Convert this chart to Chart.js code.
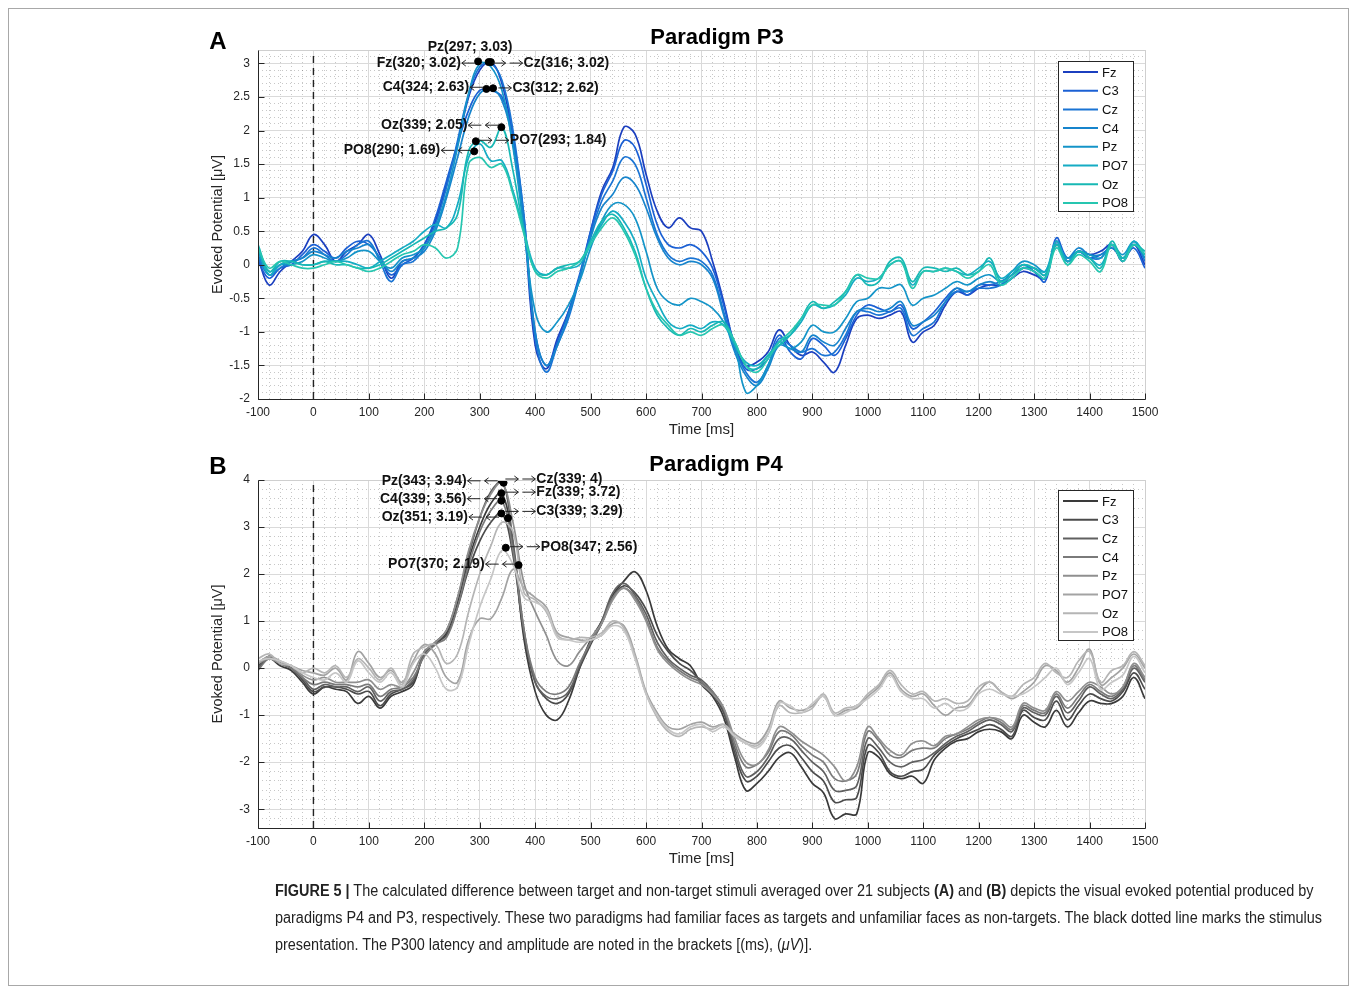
<!DOCTYPE html>
<html>
<head>
<meta charset="utf-8">
<script src="https://cdn.jsdelivr.net/npm/chart.js@4.4.0/dist/chart.umd.min.js"></script>
<style>
body { margin: 0; background: #fff; width: 1356px; height: 988px; position: relative; overflow: hidden; font-family: "Liberation Sans", Arial, sans-serif; }
#frame { position: absolute; left: 8px; top: 8px; width: 1339px; height: 976px; border: 1px solid #a8a8a8; }
canvas { position: absolute; left: 0; }
#chartA { top: 0; }
#chartB { top: 430px; }
#caption { position: absolute; left: 275px; top: 877px; font-size: 16px; line-height: 27px; color: #222; white-space: nowrap; transform-origin: left top; }
#caption .ln { display: block; }
</style>
</head>
<body>
<div id="frame"></div>
<canvas id="chartA" width="1356" height="450"></canvas>
<canvas id="chartB" width="1356" height="450"></canvas>
<div id="caption">
  <span class="ln" id="cap1"><b>FIGURE 5 |</b> The calculated difference between target and non-target stimuli averaged over 21 subjects <b>(A)</b> and <b>(B)</b> depicts the visual evoked potential produced by</span>
  <span class="ln" id="cap2">paradigms P4 and P3, respectively. These two paradigms had familiar faces as targets and unfamiliar faces as non-targets. The black dotted line marks the stimulus</span>
  <span class="ln" id="cap3">presentation. The P300 latency and amplitude are noted in the brackets [(ms), (<i>μV</i>)].</span>
</div>
<script>
// sample times (ms)
const timeMs = [-100, -80, -60, -40, -20, 0, 20, 40, 60, 80,
    100, 120, 140, 160, 180, 200, 220, 240, 260, 280,
    300, 320, 340, 360, 380, 400, 420, 440, 460, 480,
    500, 520, 540, 560, 580, 600, 620, 640, 660, 680,
    700, 720, 740, 760, 780, 800, 820, 840, 860, 880,
    900, 920, 940, 960, 980, 1000, 1020, 1040, 1060, 1080,
    1100, 1120, 1140, 1160, 1180, 1200, 1220, 1240, 1260, 1280,
    1300, 1320, 1340, 1360, 1380, 1400, 1420, 1440, 1460, 1480, 1500];
const channels = ['Fz', 'C3', 'Cz', 'C4', 'Pz', 'PO7', 'Oz', 'PO8'];
const stimulusMs = 0;

// Paradigm P3 (uV)
const p3Fz = [0.1, -0.3, -0.1, 0.05, 0.2, 0.45, 0.3, 0.05, 0.2, 0.3,
    0.45, 0.15, -0.2, 0.05, 0.1, 0.3, 0.65, 1.2, 1.8, 2.5,
    2.9, 3.02, 2.7, 1.9, 0.6, -1.2, -1.55, -1.1, -0.7, -0.2,
    0.5, 1.1, 1.45, 2.05, 1.95, 1.35, 0.8, 0.55, 0.7, 0.55,
    0.5, 0.05, -0.55, -1.2, -1.5, -1.45, -1.3, -0.97, -1.2, -1.35,
    -1.3, -1.45, -1.6, -1.2, -0.8, -0.75, -0.8, -0.75, -0.7, -1.15,
    -1.0, -0.9, -0.6, -0.4, -0.45, -0.35, -0.3, -0.3, -0.2, -0.1,
    -0.15, -0.2, 0.35, 0.05, 0.2, 0.15, 0.2, 0.3, 0.05, 0.3, 0.0];
const p3C3 = [0.05, -0.2, -0.05, 0.0, 0.15, 0.3, 0.2, 0.1, 0.25, 0.35,
    0.3, 0.1, -0.15, 0.0, 0.1, 0.3, 0.7, 1.25, 1.8, 2.3,
    2.6, 2.6, 2.5, 1.9, 0.7, -1.0, -1.5, -1.15, -0.7, -0.15,
    0.5, 1.05, 1.4, 1.85, 1.75, 1.2, 0.6, 0.3, 0.25, 0.3,
    0.2, -0.05, -0.6, -1.2, -1.55, -1.55, -1.4, -1.05, -1.3, -1.4,
    -1.1, -1.2, -1.35, -1.1, -0.75, -0.6, -0.65, -0.7, -0.6, -0.95,
    -0.85, -0.7, -0.5, -0.35, -0.45, -0.3, -0.3, -0.25, -0.15, 0.0,
    -0.1, -0.25, 0.4, 0.1, 0.2, 0.1, 0.15, 0.25, 0.1, 0.25, -0.05];
const p3Cz = [0.1, -0.15, -0.05, 0.05, 0.1, 0.25, 0.15, 0.05, 0.15, 0.3,
    0.35, 0.05, -0.25, 0.0, 0.05, 0.25, 0.6, 1.15, 1.85, 2.55,
    2.95, 3.0, 2.75, 2.0, 0.7, -1.1, -1.6, -1.2, -0.8, -0.2,
    0.45, 0.95, 1.25, 1.6, 1.5, 1.0, 0.45, 0.15, 0.05, 0.1,
    0.05, -0.15, -0.7, -1.25, -1.6, -1.75, -1.5, -1.1, -1.2, -1.3,
    -1.25, -1.35, -1.3, -1.05, -0.7, -0.7, -0.75, -0.7, -0.65, -1.05,
    -0.95, -0.85, -0.55, -0.4, -0.4, -0.35, -0.35, -0.3, -0.15, -0.05,
    -0.1, -0.2, 0.3, 0.05, 0.2, 0.1, 0.1, 0.3, 0.05, 0.35, 0.05];
const p3C4 = [0.15, -0.15, 0.0, 0.05, 0.1, 0.2, 0.15, 0.1, 0.2, 0.25,
    0.3, 0.1, -0.1, 0.05, 0.1, 0.2, 0.5, 1.0, 1.6, 2.2,
    2.55, 2.62, 2.45, 1.8, 0.6, -1.0, -1.5, -1.2, -0.75, -0.2,
    0.4, 0.85, 1.05, 1.3, 1.2, 0.85, 0.4, 0.1, 0.0, 0.05,
    0.0, -0.2, -0.75, -1.3, -1.65, -1.8, -1.55, -1.2, -1.25, -1.3,
    -1.05, -1.15, -1.2, -0.95, -0.7, -0.65, -0.7, -0.65, -0.55, -0.9,
    -0.85, -0.75, -0.55, -0.35, -0.4, -0.3, -0.25, -0.3, -0.2, -0.05,
    -0.05, -0.15, 0.3, 0.1, 0.25, 0.15, 0.15, 0.25, 0.1, 0.3, 0.1];
const p3Pz = [0.2, -0.1, 0.0, 0.0, 0.05, 0.15, 0.1, 0.05, 0.1, 0.2,
    0.2, 0.05, -0.05, 0.1, 0.15, 0.25, 0.55, 1.05, 1.75, 2.55,
    3.0, 2.95, 2.6, 1.75, 0.5, -0.7, -1.0, -0.85, -0.6, -0.25,
    0.25, 0.65, 0.9, 0.9, 0.7, 0.2, -0.35, -0.55, -0.6, -0.5,
    -0.55, -0.65, -0.85, -1.2, -1.9, -1.8, -1.5, -1.15, -1.25, -1.15,
    -0.9, -1.0, -1.0, -0.8, -0.55, -0.5, -0.35, -0.35, -0.3, -0.6,
    -0.5, -0.45, -0.35, -0.25, -0.3, -0.2, -0.15, -0.25, -0.1, 0.05,
    0.0, -0.1, 0.3, 0.1, 0.2, 0.15, 0.1, 0.3, 0.15, 0.35, 0.1];
const p3PO7 = [0.25, -0.15, 0.0, 0.05, 0.0, 0.0, 0.05, 0.05, 0.05, 0.0,
    -0.05, 0.05, 0.15, 0.25, 0.35, 0.5, 0.6, 0.55, 0.9, 1.6,
    1.8, 1.55, 1.55, 1.1, 0.5, -0.05, -0.15, -0.05, -0.05, 0.0,
    0.3, 0.6, 0.8, 0.65, 0.35, -0.2, -0.55, -0.85, -0.95, -0.9,
    -0.95, -0.85, -0.9, -1.2, -1.45, -1.5, -1.35, -1.15, -1.05, -0.85,
    -0.6, -0.65, -0.6, -0.45, -0.2, -0.25, -0.2, 0.0, 0.05, -0.3,
    -0.1, -0.1, -0.05, -0.1, -0.15, -0.05, 0.05, -0.2, -0.1, 0.0,
    -0.05, -0.1, 0.35, 0.05, 0.2, 0.1, 0.0, 0.3, 0.1, 0.35, 0.15];
const p3Oz = [0.3, -0.1, 0.05, 0.05, 0.0, 0.0, 0.05, 0.0, 0.0, -0.05,
    -0.05, 0.0, 0.1, 0.2, 0.3, 0.4, 0.5, 0.55, 0.75, 1.7,
    1.85, 1.75, 2.05, 1.4, 0.5, -0.1, -0.15, -0.05, 0.0, 0.05,
    0.35, 0.65, 0.75, 0.55, 0.2, -0.35, -0.75, -0.95, -1.05, -0.95,
    -1.0, -0.9, -0.85, -1.15, -1.5, -1.55, -1.35, -1.2, -1.05, -0.8,
    -0.55, -0.65, -0.55, -0.4, -0.15, -0.3, -0.25, 0.05, 0.1, -0.25,
    -0.05, -0.05, -0.1, -0.05, -0.15, -0.1, 0.1, -0.25, -0.15, 0.0,
    -0.05, -0.15, 0.3, 0.0, 0.2, 0.1, -0.05, 0.35, 0.1, 0.3, 0.2];
const p3PO8 = [0.25, -0.05, 0.05, 0.0, -0.05, -0.05, 0.0, 0.05, 0.0, -0.05,
    -0.1, -0.05, 0.05, 0.15, 0.2, 0.3, 0.25, 0.1, 0.25, 1.5,
    1.6, 1.45, 1.5, 1.05, 0.45, -0.1, -0.2, -0.1, -0.05, 0.05,
    0.3, 0.55, 0.7, 0.5, 0.15, -0.35, -0.7, -0.9, -1.05, -1.0,
    -1.05, -0.95, -0.9, -1.15, -1.5, -1.6, -1.4, -1.15, -1.0, -0.8,
    -0.6, -0.6, -0.6, -0.4, -0.15, -0.2, -0.2, 0.0, 0.05, -0.35,
    -0.1, -0.1, -0.05, -0.1, -0.2, -0.1, 0.0, -0.3, -0.2, -0.05,
    -0.1, -0.2, 0.25, 0.0, 0.15, 0.05, -0.1, 0.3, 0.05, 0.3, 0.15];

// Paradigm P4 (uV)
const p4Fz = [0.0, 0.2, 0.05, -0.05, -0.3, -0.55, -0.4, -0.45, -0.5, -0.75,
    -0.6, -0.85, -0.6, -0.5, -0.35, 0.35, 0.5, 0.75, 1.4, 2.3,
    3.0, 3.5, 3.72, 2.6, 0.6, -0.5, -1.0, -1.1, -0.7, 0.0,
    0.6, 1.0, 1.55, 1.85, 2.05, 1.65, 0.9, 0.4, 0.2, 0.05,
    -0.35, -0.6, -1.05, -1.9, -2.6, -2.45, -2.2, -1.9, -1.8, -2.1,
    -2.45, -2.65, -3.2, -3.1, -3.1, -1.8, -1.9, -2.25, -2.35, -2.3,
    -2.45, -1.95, -1.7, -1.55, -1.5, -1.35, -1.3, -1.35, -1.5, -1.0,
    -1.15, -1.25, -0.9, -1.25, -0.95, -0.7, -0.75, -0.75, -0.6, -0.2, -0.65];
const p4C3 = [0.05, 0.25, 0.1, 0.0, -0.25, -0.5, -0.4, -0.4, -0.45, -0.55,
    -0.5, -0.8, -0.55, -0.45, -0.3, 0.3, 0.55, 0.7, 1.3, 2.1,
    2.7, 3.1, 3.29, 2.4, 0.7, -0.3, -0.65, -0.75, -0.55, 0.0,
    0.5, 0.95, 1.5, 1.75, 1.6, 1.25, 0.7, 0.35, 0.1, -0.05,
    -0.3, -0.55, -0.95, -1.8, -2.4, -2.3, -2.0, -1.7, -1.65, -1.9,
    -2.2, -2.4, -2.85, -2.8, -2.75, -1.65, -1.8, -2.2, -2.3, -2.2,
    -2.15, -1.85, -1.65, -1.5, -1.4, -1.3, -1.2, -1.3, -1.45, -0.9,
    -1.05, -1.1, -0.7, -1.1, -0.8, -0.55, -0.65, -0.7, -0.5, -0.1, -0.45];
const p4Cz = [0.0, 0.25, 0.1, 0.0, -0.2, -0.45, -0.35, -0.4, -0.4, -0.5,
    -0.4, -0.7, -0.5, -0.45, -0.25, 0.3, 0.55, 0.8, 1.5, 2.4,
    3.2, 3.75, 4.0, 2.7, 0.8, -0.3, -0.6, -0.65, -0.5, 0.05,
    0.55, 1.0, 1.6, 1.8, 1.55, 1.15, 0.55, 0.2, 0.0, -0.15,
    -0.25, -0.5, -0.9, -1.7, -2.3, -2.2, -1.9, -1.5, -1.5, -1.75,
    -2.0, -2.2, -2.6, -2.6, -2.5, -1.5, -1.7, -2.0, -2.1, -2.0,
    -1.95, -1.8, -1.6, -1.45, -1.35, -1.2, -1.1, -1.2, -1.35, -0.85,
    -0.95, -1.0, -0.6, -0.95, -0.7, -0.4, -0.55, -0.65, -0.45, 0.0, -0.3];
const p4C4 = [-0.05, 0.2, 0.1, 0.0, -0.2, -0.35, -0.3, -0.35, -0.35, -0.4,
    -0.35, -0.6, -0.45, -0.4, -0.2, 0.25, 0.5, 0.65, 1.3, 2.2,
    2.9, 3.35, 3.56, 2.5, 0.8, -0.2, -0.5, -0.55, -0.4, 0.1,
    0.55, 0.95, 1.5, 1.7, 1.5, 1.05, 0.45, 0.15, -0.05, -0.2,
    -0.3, -0.5, -0.85, -1.6, -2.1, -2.05, -1.8, -1.35, -1.4, -1.65,
    -1.85, -2.0, -2.35, -2.4, -2.25, -1.35, -1.55, -1.85, -1.9, -1.75,
    -1.7, -1.7, -1.5, -1.4, -1.3, -1.15, -1.05, -1.15, -1.3, -0.8,
    -0.9, -0.95, -0.55, -0.85, -0.6, -0.35, -0.5, -0.6, -0.4, 0.05, -0.25];
const p4Pz = [0.1, 0.2, 0.1, 0.05, -0.15, -0.25, -0.2, -0.3, -0.3, -0.3,
    -0.25, -0.45, -0.35, -0.4, -0.1, 0.35, 0.55, 0.8, 1.5, 2.5,
    3.2, 3.7, 3.94, 3.1, 1.8, 1.2, 0.7, 0.15, 0.05, 0.35,
    0.65, 0.95, 1.45, 1.7, 1.45, 1.0, 0.4, 0.1, -0.1, -0.25,
    -0.35, -0.55, -0.85, -1.5, -2.0, -2.05, -1.75, -1.25, -1.35, -1.55,
    -1.7, -1.85, -2.1, -2.4, -2.1, -1.25, -1.5, -1.75, -1.85, -1.6,
    -1.55, -1.65, -1.45, -1.4, -1.25, -1.1, -1.05, -1.1, -1.25, -0.75,
    -0.85, -0.9, -0.5, -0.7, -0.5, -0.3, -0.4, -0.55, -0.4, 0.1, -0.2];
const p4PO7 = [0.1, 0.25, 0.15, 0.05, -0.05, -0.1, -0.15, 0.0, -0.25, 0.35,
    0.1, -0.2, -0.05, -0.3, 0.15, 0.5, 0.3, -0.2, -0.3, 0.6,
    1.05, 1.05, 1.5, 2.1, 1.7, 1.5, 1.3, 0.75, 0.65, 0.6,
    0.6, 0.7, 0.95, 0.9, 0.3, -0.5, -0.95, -1.25, -1.3, -1.2,
    -1.15, -1.25, -1.2, -1.4, -1.55, -1.6, -1.3, -0.7, -0.85, -0.9,
    -0.8, -0.6, -1.0, -0.9, -0.85, -0.6, -0.4, -0.1, -0.45, -0.6,
    -0.55, -0.8, -1.0, -0.85, -0.8, -0.5, -0.3, -0.5, -0.65, -0.5,
    -0.3, 0.05, -0.05, -0.3, 0.0, 0.4, -0.35, -0.2, 0.0, 0.3, 0.0];
const p4Oz = [0.2, 0.3, 0.1, 0.05, -0.1, 0.0, -0.1, 0.05, -0.2, 0.2,
    0.0, -0.25, 0.0, -0.35, 0.3, 0.45, 0.5, 0.1, 0.3, 1.2,
    2.0, 2.6, 3.1, 2.9, 1.6, 1.45, 1.2, 0.7, 0.6, 0.65,
    0.65, 0.75, 1.0, 0.85, 0.25, -0.55, -1.05, -1.35, -1.45, -1.3,
    -1.25, -1.3, -1.2, -1.45, -1.6, -1.65, -1.4, -0.8, -0.95, -0.95,
    -0.85, -0.55, -0.95, -0.85, -0.8, -0.55, -0.35, -0.05, -0.35, -0.55,
    -0.5, -0.7, -0.65, -0.75, -0.7, -0.4, -0.3, -0.5, -0.6, -0.35,
    -0.2, 0.1, -0.1, -0.2, 0.15, 0.35, -0.3, -0.05, 0.05, 0.35, 0.05];
const p4PO8 = [0.15, 0.2, 0.15, 0.05, -0.1, -0.2, -0.25, -0.1, -0.3, 0.15,
    -0.1, -0.3, -0.1, -0.4, 0.1, 0.3, 0.0, -0.45, -0.4, 0.5,
    1.3, 1.9, 2.5, 2.2, 1.5, 1.4, 1.25, 0.65, 0.6, 0.55,
    0.6, 0.7, 0.9, 0.8, 0.2, -0.55, -1.0, -1.3, -1.4, -1.25,
    -1.2, -1.35, -1.25, -1.45, -1.6, -1.7, -1.4, -0.75, -0.8, -0.95,
    -0.75, -0.6, -1.0, -0.95, -0.8, -0.65, -0.45, -0.15, -0.5, -0.65,
    -0.65, -0.85, -0.75, -0.9, -0.85, -0.55, -0.45, -0.55, -0.6, -0.55,
    -0.4, -0.2, 0.0, -0.35, -0.1, 0.2, -0.45, -0.3, -0.15, 0.25, -0.1];

// P300 peaks (latency ms, amplitude uV), same order as channels
const p3PeakLat = [320, 312, 316, 324, 297, 293, 339, 290];
const p3PeakAmp = [3.02, 2.62, 3.02, 2.63, 3.03, 1.84, 2.05, 1.69];
const p4PeakLat = [339, 339, 339, 339, 343, 370, 351, 347];
const p4PeakAmp = [3.72, 3.29, 4, 3.56, 3.94, 2.19, 3.19, 2.56];

const p3Colors = ['#1b3fbf', '#1b60d4', '#1a74d4', '#1684cc', '#1494c8', '#15acc4', '#17b8b4', '#26c6b0'];
const p4Colors = ['#3a3a3a', '#4b4b4b', '#606060', '#7a7a7a', '#8f8f8f', '#a3a3a3', '#b5b5b5', '#c6c6c6'];

const family = "'Liberation Sans', Arial, sans-serif";
Chart.defaults.font.family = family;
Chart.defaults.color = '#262626';

function keepSteps(step) {
    return function (scale) {
        scale.ticks = scale.ticks.filter(t => Math.abs(t.value / step - Math.round(t.value / step)) < 1e-6);
    };
}

// thin text-style arrow, dir -1 = left, 1 = right
function drawArrow(ctx, x0, y, w, dir) {
    const x1 = x0 + w;
    ctx.beginPath();
    ctx.moveTo(x0, y); ctx.lineTo(x1, y);
    if (dir < 0) { ctx.moveTo(x0 + 4, y - 3); ctx.lineTo(x0, y); ctx.lineTo(x0 + 4, y + 3); }
    else { ctx.moveTo(x1 - 4, y - 3); ctx.lineTo(x1, y); ctx.lineTo(x1 - 4, y + 3); }
    ctx.stroke();
}

// label = arrows + bold text, laid out as pieces
function drawLabel(ctx, pieces, x, y, align) {
    let total = 0;
    pieces.forEach(p => {
        if (p.text) { ctx.font = p.font; p.w = ctx.measureText(p.text).width; }
        total += p.w;
    });
    let cx = align === 'right' ? x - total : (align === 'center' ? x - total / 2 : x);
    ctx.textAlign = 'left';
    pieces.forEach(p => {
        if (p.text) { ctx.font = p.font; ctx.fillText(p.text, cx, y); }
        else if (p.dir) { drawArrow(ctx, cx, y, p.w, p.dir); }
        cx += p.w;
    });
}

function arrowPieces(spec) {
    // spec like 'L', 'LL', 'R', 'RR'
    const out = [];
    for (let k = 0; k < spec.length; k++) {
        if (k > 0) out.push({ w: 4 });
        out.push({ w: 13, dir: spec[k] === 'L' ? -1 : 1 });
    }
    return out;
}

const decor = {
    id: 'decor',
    afterDatasetsDraw(chart, args, o) {
        const ctx = chart.ctx, a = chart.chartArea;
        const xs = chart.scales.x, ys = chart.scales.y;
        ctx.save();
        // light top/right edges, dark left/bottom axes with inward ticks
        const L = Math.round(a.left) + 0.5, R = Math.round(a.right) + 0.5;
        const T = Math.round(a.top) + 0.5, B = Math.round(a.bottom) + 0.5;
        ctx.lineWidth = 1;
        ctx.strokeStyle = '#cfcfcf';
        ctx.beginPath(); ctx.moveTo(L, T); ctx.lineTo(R, T); ctx.lineTo(R, B); ctx.stroke();
        ctx.strokeStyle = '#262626';
        ctx.beginPath(); ctx.moveTo(L, T); ctx.lineTo(L, B); ctx.lineTo(R, B);
        xs.ticks.forEach(t => {
            const p = Math.round(xs.getPixelForValue(t.value)) + 0.5;
            ctx.moveTo(p, B); ctx.lineTo(p, B - 6);
        });
        ys.ticks.forEach(t => {
            const p = Math.round(ys.getPixelForValue(t.value)) + 0.5;
            ctx.moveTo(L, p); ctx.lineTo(L + 6, p);
        });
        ctx.stroke();

        // peak labels
        ctx.fillStyle = '#111';
        ctx.strokeStyle = '#222';
        ctx.lineWidth = 1;
        ctx.textBaseline = 'middle';
        const boldF = 'bold 14px ' + family;
        channels.forEach((name, i) => {
            const lay = o.labels[i];
            const px = xs.getPixelForValue(o.lat[i]);
            const py = ys.getPixelForValue(o.amp[i]);
            let pieces = [];
            if (lay.pre) pieces = pieces.concat(arrowPieces(lay.pre), [{ w: 1 }]);
            pieces.push({ text: name + '(' + o.lat[i] + '; ' + o.amp[i] + ')', font: boldF });
            if (lay.post) pieces = pieces.concat([{ w: 1 }], arrowPieces(lay.post));
            drawLabel(ctx, pieces, px + lay.dx, py + lay.dy, lay.align);
        });

        // legend
        const bx = a.right - 87, by = a.top + o.legendDy, bw = 75, bh = 150;
        ctx.fillStyle = '#fff';
        ctx.fillRect(bx, by, bw, bh);
        ctx.strokeStyle = '#262626';
        ctx.lineWidth = 1;
        ctx.strokeRect(bx + 0.5, by + 0.5, bw, bh);
        ctx.font = '13px ' + family;
        ctx.textAlign = 'left';
        channels.forEach((name, i) => {
            const y = by + 11 + i * 18.7;
            ctx.strokeStyle = chart.data.datasets[i].borderColor;
            ctx.lineWidth = 2;
            ctx.beginPath(); ctx.moveTo(bx + 5, y); ctx.lineTo(bx + 40, y); ctx.stroke();
            ctx.fillStyle = '#111';
            ctx.fillText(name, bx + 44, y + 1);
        });

        // panel letter and title
        ctx.fillStyle = '#000';
        ctx.textAlign = 'center';
        ctx.font = 'bold 24px ' + family;
        ctx.fillText(o.letter, 218, o.letterY);
        ctx.font = 'bold 22px ' + family;
        ctx.fillText(o.title, o.titleX, o.titleY);
        ctx.restore();
    }
};

function makeChart(id, values, colors, lat, amp, yMin, yMax, yStep, yMinor, opts) {
    const datasets = channels.map((name, i) => ({
        label: name,
        data: timeMs.map((t, k) => ({ x: t, y: values[i][k] })),
        borderColor: colors[i],
        borderWidth: 1.7,
        pointRadius: 0,
        tension: 0.4,
        fill: false,
        order: -i
    }));
    datasets.push({
        label: 'stimulus',
        data: [{ x: stimulusMs, y: yMin }, { x: stimulusMs, y: yMax }],
        borderColor: '#222',
        borderWidth: 1.4,
        borderDash: [7, 5],
        pointRadius: 0,
        order: 50
    });
    datasets.push({
        label: 'peaks',
        data: lat.map((t, i) => ({ x: t, y: amp[i] })),
        showLine: false,
        pointRadius: 3.5,
        pointBackgroundColor: '#000',
        pointBorderColor: '#000',
        order: -100
    });
    const tickFont = { size: 12 };
    return new Chart(document.getElementById(id), {
        type: 'line',
        data: { datasets: datasets },
        plugins: [decor],
        options: {
            responsive: false,
            animation: false,
            layout: { padding: { left: 200, right: 211, top: opts.padTop, bottom: opts.padBottom } },
            plugins: {
                legend: { display: false },
                tooltip: { enabled: false },
                decor: Object.assign({ lat: lat, amp: amp }, opts)
            },
            scales: {
                xm: {
                    type: 'linear', position: 'bottom', min: -100, max: 1500,
                    afterBuildTicks: keepSteps(20),
                    ticks: { display: false, stepSize: 20, includeBounds: false },
                    grid: { color: 'rgba(0,0,0,0.22)', lineWidth: 1, drawTicks: false },
                    border: { display: false, dash: [1, 3] },
                    afterFit: s => { s.height = 0; }
                },
                ym: {
                    type: 'linear', position: 'left', min: yMin, max: yMax,
                    afterBuildTicks: keepSteps(yMinor),
                    ticks: { display: false, stepSize: yMinor, includeBounds: false },
                    grid: { color: 'rgba(0,0,0,0.22)', lineWidth: 1, drawTicks: false },
                    border: { display: false, dash: [1, 3] },
                    afterFit: s => { s.width = 0; }
                },
                x: {
                    type: 'linear', position: 'bottom', min: -100, max: 1500,
                    afterBuildTicks: keepSteps(100),
                    ticks: { stepSize: 100, includeBounds: false, font: tickFont, padding: 6, maxRotation: 0, autoSkip: false, callback: v => String(v) },
                    grid: { color: '#dadada', drawTicks: false },
                    border: { display: false },
                    title: { display: true, text: 'Time [ms]', font: { size: 15 }, padding: { top: 0, bottom: 6 } },
                    afterFit: s => { s.height = 46; }
                },
                y: {
                    type: 'linear', position: 'left', min: yMin, max: yMax,
                    afterBuildTicks: keepSteps(yStep),
                    ticks: { stepSize: yStep, includeBounds: false, font: tickFont, padding: 8, callback: v => String(Math.round(v * 100) / 100) },
                    grid: { color: '#dadada', drawTicks: false },
                    border: { display: false },
                    title: { display: true, text: 'Evoked Potential [μV]', font: { size: 14.5 }, padding: { top: 9, bottom: 0 } },
                    afterFit: s => { s.width = 58; }
                }
            }
        }
    });
}

const labelsP3 = [
    { align: 'right', pre: '', post: 'L', dx: -16, dy: 1 },
    { align: 'left', pre: 'R', post: '', dx: 12, dy: -1 },
    { align: 'left', pre: 'RR', post: '', dx: 4, dy: 1 },
    { align: 'right', pre: '', post: 'L', dx: -10, dy: -1 },
    { align: 'center', pre: '', post: '', dx: -8, dy: -14 },
    { align: 'left', pre: 'RR', post: '', dx: 3, dy: -1 },
    { align: 'right', pre: '', post: 'LL', dx: -3, dy: -2 },
    { align: 'right', pre: '', post: 'LL', dx: -3, dy: -1 }
];
const labelsP4 = [
    { align: 'left', pre: 'RR', post: '', dx: 4, dy: -1 },
    { align: 'left', pre: 'RR', post: '', dx: 4, dy: -2 },
    { align: 'left', pre: 'RR', post: '', dx: 4, dy: -1 },
    { align: 'right', pre: '', post: 'LL', dx: -4, dy: -2 },
    { align: 'right', pre: '', post: 'LL', dx: -6, dy: -2 },
    { align: 'right', pre: '', post: 'LL', dx: -3, dy: -1 },
    { align: 'right', pre: '', post: 'LL', dx: -9, dy: -1 },
    { align: 'left', pre: 'RR', post: '', dx: 4, dy: -1 }
];

makeChart('chartA', [p3Fz, p3C3, p3Cz, p3C4, p3Pz, p3PO7, p3Oz, p3PO8], p3Colors, p3PeakLat, p3PeakAmp,
    -2, 3.2, 0.5, 0.1,
    { padTop: 50, padBottom: 5, labels: labelsP3, legendDy: 11, letter: 'A', letterY: 42, title: 'Paradigm P3', titleX: 717, titleY: 38 });
makeChart('chartB', [p4Fz, p4C3, p4Cz, p4C4, p4Pz, p4PO7, p4Oz, p4PO8], p4Colors, p4PeakLat, p4PeakAmp,
    -3.4, 4, 1, 0.2,
    { padTop: 50, padBottom: 6, labels: labelsP4, legendDy: 10, letter: 'B', letterY: 37, title: 'Paradigm P4', titleX: 716, titleY: 35 });

// fit caption width to the reference line length
const cap = document.getElementById('caption');
const w2 = document.getElementById('cap2').getBoundingClientRect().width;
cap.style.transform = 'scaleX(' + (1047 / w2) + ')';
</script>
</body>
</html>
